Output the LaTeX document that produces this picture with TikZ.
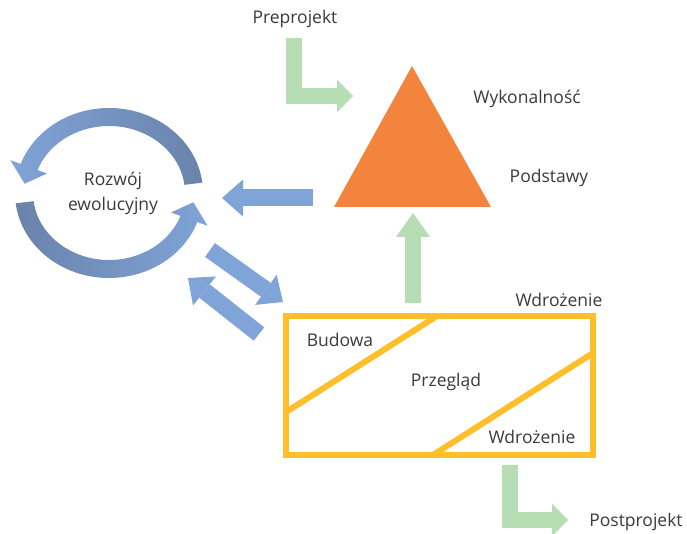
\documentclass[tikz,border=0pt]{standalone}
\usepackage{fontspec}
\setmainfont{Open Sans}
\usetikzlibrary{arrows.meta}
\definecolor{bluel}{HTML}{80A4D8}
\definecolor{blued}{HTML}{6A83AA}
\definecolor{greenl}{HTML}{B7DDB5}
\definecolor{orangem}{HTML}{F2843E}
\definecolor{goldm}{HTML}{FFBF2B}
\definecolor{txt}{HTML}{3A3A3A}
\tikzset{
  lbl/.style={text=txt, font=\fontsize{17.5}{25}\selectfont, inner sep=0pt, align=center},
  bluearrow/.style={draw=bluel, line width=17pt, -{Triangle[length=21pt,width=37pt,line width=0pt]}},
  greenarrow/.style={draw=greenl, line width=16pt, line join=miter, -{Triangle[length=16pt,width=33pt,line width=0pt]}},
}
\begin{document}
\begin{tikzpicture}[x=1pt,y=-1pt]
\useasboundingbox (0,0) rectangle (687,534);
% circular arrows
\begin{scope}[shift={(109,193)}]
\shade[left color=bluel, right color=blued]
  (-7:94 and 85) arc[start angle=-7, end angle=-160, x radius=94, y radius=85]
  -- (-160:105 and 96) -- (-173:85 and 76) -- (-160:66 and 57)
  -- (-160:76 and 67) arc[start angle=-160, end angle=-7, x radius=76, y radius=67] -- cycle;
\shade[left color=blued, right color=bluel]
  (173:94 and 85) arc[start angle=173, end angle=20, x radius=94, y radius=85]
  -- (20:105 and 96) -- (7:85 and 76) -- (20:66 and 57)
  -- (20:76 and 67) arc[start angle=20, end angle=173, x radius=76, y radius=67] -- cycle;
\end{scope}
\node[lbl] (rozwoj) at (113,193) {Rozwój\\ewolucyjny};
% triangle
\fill[orangem] (412,66) -- (491,207) -- (334,207) -- cycle;
\coordinate (triB) at (413,213);
% box
\draw[goldm, line width=6pt] (286,316) rectangle (593,455);
\draw[goldm, line width=6pt] (437,316) -- (286,412);
\draw[goldm, line width=6pt] (593,353) -- (433,455);
% labels
\node[lbl] (pre) at (295,19) {Preprojekt};
\node[lbl] (wyk) at (527,99) {Wykonalność};
\node[lbl] (pod) at (549,178) {Podstawy};
\node[lbl] (wdr1) at (559,300) {Wdrożenie};
\node[lbl] (bud) at (340,340) {Budowa};
\node[lbl] (prz) at (446,382) {Przegląd};
\node[lbl] (wdr2) at (532,437) {Wdrożenie};
\node[lbl] (post) at (636,522) {Postprojekt};
% blue arrows
\coordinate (la0) at (313,198);
\coordinate (la1) at (222,198);
\draw[bluearrow] (la0) -- (la1);
\coordinate (d1a) at (210,250);
\coordinate (d1b) at (283,302);
\draw[bluearrow] (d1a) -- (d1b);
\coordinate (d2a) at (259,334);
\coordinate (d2b) at (188,278);
\draw[bluearrow] (d2a) -- (d2b);
% green arrows
\coordinate (g1a) at (294,38);
\coordinate (g1b) at (353,96);
\draw[greenarrow] (g1a) |- (g1b);
\coordinate (g2a) at (413,303);
\draw[greenarrow, -{Triangle[length=24pt,width=34pt,line width=0pt]}] (g2a) -- (triB);
\coordinate (g3a) at (510,465);
\coordinate (g3b) at (568,520);
\draw[greenarrow] (g3a) |- (g3b);
\end{tikzpicture}
\end{document}
